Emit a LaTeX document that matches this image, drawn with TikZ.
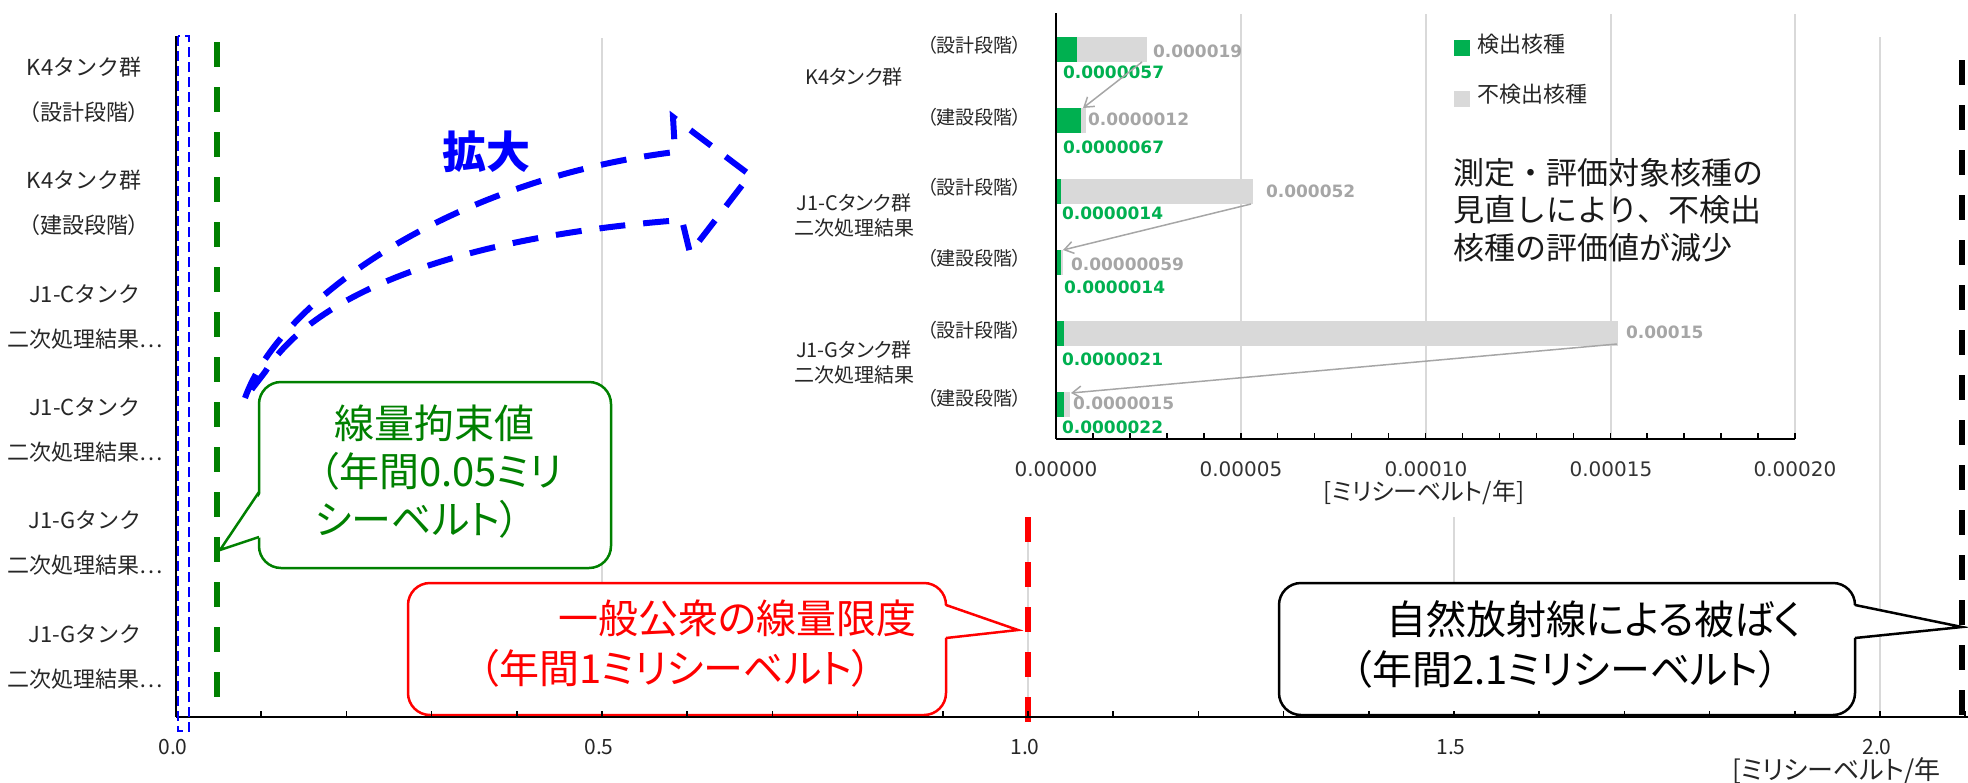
\documentclass[tikz,border=0pt]{standalone}
\usepackage{fontspec}
\setmainfont{Noto Sans CJK JP}[RawFeature=+palt]
\newfontfamily\jpfull{Noto Sans CJK JP}
\newfontfamily\numfont{DejaVu Sans}
\usetikzlibrary{arrows.meta}
\definecolor{dgreen}{RGB}{0,128,0}
\definecolor{bgreen}{RGB}{0,176,80}
\definecolor{bgray}{RGB}{217,217,217}
\definecolor{lgray}{RGB}{166,166,166}
\definecolor{gridc}{RGB}{217,217,217}
\begin{document}
\begin{tikzpicture}[x=1pt,y=-1pt,
  every node/.style={inner sep=0pt, outer sep=0pt},
  catlbl/.style={font=\fontsize{22}{45}\selectfont, align=center, text=black!85},
  ticklbl/.style={font=\fontsize{21}{24}\selectfont, text=black!85},
  itick/.style={font=\numfont\fontsize{20}{24}\selectfont, text=black!80},
  gridln/.style={draw=gridc, line width=1.5pt},
  axline/.style={draw=black, line width=2pt},
  limitline/.style={line width=6pt, dash pattern=on 25pt off 20pt},
  cbox/.style={line width=2.5pt, rounded corners=22pt, fill=white},
  cptr/.style={line width=2.5pt, line join=miter},
  ctext/.style={font=\fontsize{40}{50}\selectfont, align=left, anchor=west},
  stagelbl/.style={font=\fontsize{19}{22}\selectfont, anchor=east, text=black!85},
  grplbl/.style={font=\fontsize{20}{25}\selectfont, align=center, text=black!85},
  dlbl/.style={font=\numfont\bfseries\fontsize{17}{20}\selectfont, anchor=west},
  darrow/.style={draw=lgray, line width=1.5pt, -{Straight Barb[length=9pt,width=12pt]}}
]
\useasboundingbox (0,0) rectangle (1968,782);

% ---------- main chart gridlines ----------
\draw[gridln] (602,38) -- (602,717);
\draw[gridln] (1028,517) -- (1028,717);
\draw[gridln] (1454,517) -- (1454,717);
\draw[gridln] (1880,37) -- (1880,717);

% ---------- category labels ----------
\node[catlbl] (c1) at (84,90) {{\jpfull K4タンク群}\\（設計段階）};
\node[catlbl] (c2) at (84,203) {{\jpfull K4タンク群}\\（建設段階）};
\node[catlbl] (c3) at (85,317) {{\jpfull J1-Cタンク}\\二次処理結果…};
\node[catlbl] (c4) at (85,430) {{\jpfull J1-Cタンク}\\二次処理結果…};
\node[catlbl] (c5) at (85,543) {{\jpfull J1-Gタンク}\\二次処理結果…};
\node[catlbl] (c6) at (85,657) {{\jpfull J1-Gタンク}\\二次処理結果…};

% ---------- limit lines ----------
\coordinate (gtop) at (217,42);
\coordinate (gbot) at (217,702);
\coordinate (gtip) at (220,550);
\coordinate (rtop) at (1028,517);
\coordinate (rbot) at (1028,730);
\coordinate (rtip) at (1018,630);
\coordinate (ktop) at (1962,60);
\coordinate (kbot) at (1962,716);
\coordinate (ktip) at (1962,627);
\draw[dgreen, limitline] (gtop) -- (gbot);
\draw[red, limitline] (rtop) -- (rbot);
\draw[black, limitline] (ktop) -- (kbot);

% ---------- callouts ----------
\draw[dgreen, cbox] (259,382) rectangle (611,568);
\fill[white] (262,492) -- (gtip) -- (262,537) -- cycle;
\draw[dgreen, cptr] (259,492) -- (gtip) -- (259,537);
\node[ctext, text=dgreen, font=\fontsize{40}{48}\selectfont] (gtext) at (315,472)
  {\hspace*{19pt}線量拘束値\\\hspace*{4pt}（年間0.05ミリ\\シーベルト）};

\draw[red, cbox] (408,583) rectangle (946,715);
\fill[white] (943,605) -- (rtip) -- (943,638) -- cycle;
\draw[red, cptr] (946,605) -- (rtip) -- (946,638);
\node[ctext, text=red] (rtext) at (479,644)
  {\hspace*{79pt}一般公衆の線量限度\\（年間1ミリシーベルト）};

\draw[black, cbox] (1279,583) rectangle (1855,715);
\fill[white] (1852,605) -- (ktip) -- (1852,638) -- cycle;
\draw[black, cptr] (1855,605) -- (ktip) -- (1855,638);
\node[ctext, text=black] (ktext) at (1352,644)
  {\hspace*{34pt}自然放射線による被ばく\\（年間2.1ミリシーベルト）};

% ---------- main axes ----------
\draw[axline] (176,36) -- (176,717);
\draw[axline] (176,717) -- (1968,717);
\foreach \i in {1,...,21} \draw[black, line width=1.5pt] ({176+85.2*\i},717) -- ++(0,-6);
\draw[blue, line width=2.5pt, dash pattern=on 10pt off 5pt] (178,36) rectangle (189,731);

\node[ticklbl] (t0) at (173,747) {0.0};
\node[ticklbl] (t1) at (599,747) {0.5};
\node[ticklbl] (t2) at (1025,747) {1.0};
\node[ticklbl] (t3) at (1451,747) {1.5};
\node[ticklbl] (t4) at (1877,747) {2.0};
\node[font=\fontsize{26}{30}\selectfont, anchor=west, text=black!85] (mtitle) at (1732,771) {[ミリシーベルト/年};

% ---------- zoom arrow ----------
\draw[blue, line width=6pt, dash pattern=on 26pt off 18pt, line join=miter]
  (245,398) .. controls (280,300) and (450,180) .. (675,152) -- (673,117) -- (750,175)
  -- (690,253) -- (682,220) .. controls (480,235) and (320,285) .. (265,372) -- cycle;
\node[text=blue, font=\bfseries\fontsize{44}{50}\selectfont] (zoomlbl) at (486,152) {拡大};

% ---------- inset chart ----------
\foreach \x in {1241,1426,1611,1795} \draw[gridln] (\x,14) -- (\x,439);

% bars: green = detected, gray = not detected
\fill[bgreen] (1056,37) rectangle (1077,62);
\fill[bgray]  (1077,37) rectangle (1147,62);
\fill[bgreen] (1056,108) rectangle (1081,133);
\fill[bgray]  (1081,108) rectangle (1085.5,133);
\fill[bgreen] (1056,179) rectangle (1061.2,204);
\fill[bgray]  (1061.2,179) rectangle (1253,204);
\fill[bgreen] (1056,250) rectangle (1061.2,275);
\fill[bgray]  (1061.2,250) rectangle (1063.4,275);
\fill[bgreen] (1056,321) rectangle (1063.8,346);
\fill[bgray]  (1063.8,321) rectangle (1618,346);
\fill[bgreen] (1056,392) rectangle (1064.1,417);
\fill[bgray]  (1064.1,392) rectangle (1069.6,417);

\draw[axline] (1056,13) -- (1056,439);
\draw[axline] (1056,439) -- (1795,439);
\foreach \i in {1,...,20} \draw[black, line width=1.5pt] ({1056+36.95*\i},439) -- ++(0,-6);

% data labels
\node[dlbl, text=lgray] (g1) at (1153,51) {0.000019};
\node[dlbl, text=lgray] (g2) at (1088,119) {0.0000012};
\node[dlbl, text=lgray] (g3) at (1266,191) {0.000052};
\node[dlbl, text=lgray] (g4) at (1071,264) {0.00000059};
\node[dlbl, text=lgray] (g5) at (1626,332) {0.00015};
\node[dlbl, text=lgray] (g6) at (1073,403) {0.0000015};
\node[dlbl, text=bgreen] (d1) at (1063,72) {0.0000057};
\node[dlbl, text=bgreen] (d2) at (1063,147) {0.0000067};
\node[dlbl, text=bgreen] (d3) at (1062,213) {0.0000014};
\node[dlbl, text=bgreen] (d4) at (1064,287) {0.0000014};
\node[dlbl, text=bgreen] (d5) at (1062,359) {0.0000021};
\node[dlbl, text=bgreen] (d6) at (1062,427) {0.0000022};

% reduction arrows
\coordinate (a1s) at (1142,62);  \coordinate (a1e) at (1083,108);
\coordinate (a2s) at (1251,204); \coordinate (a2e) at (1063,250);
\coordinate (a3s) at (1617,344); \coordinate (a3e) at (1071,393);
\draw[darrow] (a1s) -- (a1e);
\draw[darrow] (a2s) -- (a2e);
\draw[darrow] (a3s) -- (a3e);

% inset labels
\node[stagelbl] (s1) at (1022,45) {（設計段階）};
\node[stagelbl] (s2) at (1022,117) {（建設段階）};
\node[stagelbl] (s3) at (1022,187) {（設計段階）};
\node[stagelbl] (s4) at (1022,258) {（建設段階）};
\node[stagelbl] (s5) at (1022,330) {（設計段階）};
\node[stagelbl] (s6) at (1022,398) {（建設段階）};
\node[grplbl] (gp1) at (854,77) {K4タンク群};
\node[grplbl] (gp2) at (854,215) {J1-Cタンク群\\二次処理結果};
\node[grplbl] (gp3) at (854,362) {J1-Gタンク群\\二次処理結果};

\node[itick] (i0) at (1056,469) {0.00000};
\node[itick] (i1) at (1241,469) {0.00005};
\node[itick] (i2) at (1426,469) {0.00010};
\node[itick] (i3) at (1611,469) {0.00015};
\node[itick] (i4) at (1795,469) {0.00020};
\node[font=\fontsize{24}{28}\selectfont, text=black!85] (ititle) at (1424,493) {[ミリシーベルト/年]};

% legend
\fill[bgreen] (1454,40) rectangle (1470,56);
\node[anchor=west, font=\fontsize{22}{26}\selectfont, text=black!85] (lg1) at (1477,44) {検出核種};
\fill[bgray] (1454,91) rectangle (1470,107);
\node[anchor=west, font=\fontsize{22}{26}\selectfont, text=black!85] (lg2) at (1477,94) {不検出核種};

% note
\node[anchor=west, align=left, font=\jpfull\fontsize{31}{37.5}\selectfont, text=black!90] (note) at (1453,210)
  {測定・評価対象核種の\\見直しにより、不検出\\核種の評価値が減少};
\end{tikzpicture}
\end{document}
